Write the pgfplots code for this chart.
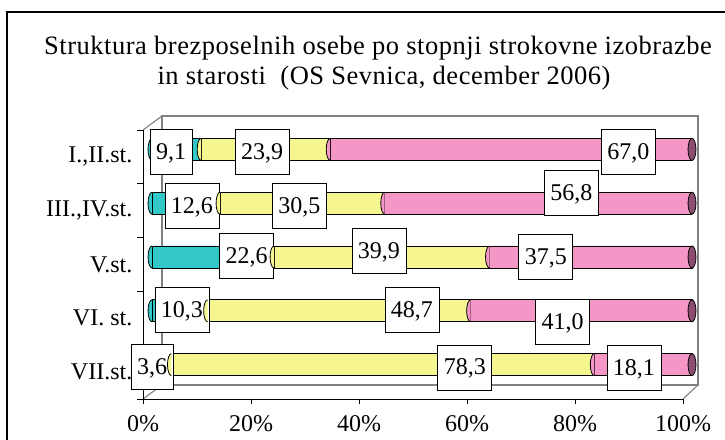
\documentclass[border=0pt]{standalone}
\usepackage{fontspec}
\setmainfont{Liberation Serif}
\newfontfamily\titlefont[LetterSpace=2]{Liberation Serif}
\usepackage{pgfplots}
\pgfplotsset{compat=1.18}

\definecolor{tealM}{HTML}{33C8C8}
\definecolor{yelM}{HTML}{F6F690}
\definecolor{pinkM}{HTML}{F497C7}
\definecolor{capC}{HTML}{8C4D70}

\pgfdeclareplotmark{lcap}{%
  \pgfpathmoveto{\pgfqpoint{0pt}{\pgfplotmarksize}}%
  \pgfpatharc{90}{270}{0.36\pgfplotmarksize and \pgfplotmarksize}%
  \pgfpathclose
  \pgfusepathqfill
  \pgfpathmoveto{\pgfqpoint{0pt}{\pgfplotmarksize}}%
  \pgfpatharc{90}{270}{0.36\pgfplotmarksize and \pgfplotmarksize}%
  \pgfusepathqstroke
}
\pgfdeclareplotmark{fcap}{%
  \pgfpathellipse{\pgfpointorigin}{\pgfqpoint{0.36\pgfplotmarksize}{0pt}}{\pgfqpoint{0pt}{\pgfplotmarksize}}%
  \pgfusepathqfillstroke
}

\pgfplotsset{
  common/.style={
    at={(143pt,40pt)}, anchor=south west,
    scale only axis, width=540pt, height=269pt,
    xmin=0, xmax=100, ymin=0.5, ymax=5.5,
    clip=false,
  },
  shifted/.style={xshift=9pt, yshift=7.5pt},
}

\tikzset{vbox/.style={draw=black, line width=0.7pt, fill=white, inner xsep=6pt, inner ysep=0pt,
  minimum height=45pt, text height=16.5pt, text depth=2pt, font=\fontsize{24}{28}\selectfont}}

\begin{document}
\begin{tikzpicture}[x=1pt,y=1pt]
\useasboundingbox (0,0) rectangle (725,439);
\begin{scope}
\clip (0,0) rectangle (725,439);
\draw[line width=1.6pt] (7,-5) -- (7,427) -- (730,427);
\end{scope}

\node[anchor=base, font=\titlefont\fontsize{26.5}{30}\selectfont, inner sep=0pt] at (378,384)
  {Struktura brezposelnih osebe po stopnji strokovne izobrazbe};
\node[anchor=base, font=\titlefont\fontsize{26.5}{30}\selectfont, inner sep=0pt] at (384,354)
  {in starosti\ \ (OS Sevnica, december 2006)};

% 3D walls
\draw[gray, line width=1.1pt] (162,54) rectangle (698,323);
\draw[gray, line width=1.1pt] (143,309) -- (162,323);
\draw[gray, line width=1.1pt] (143,40) -- (162,54);
\draw[gray, line width=1.1pt] (683,40) -- (698,54);

% underlay: left caps of the teal cylinders
\begin{axis}[common, hide axis]
\addplot[shifted, only marks, mark=lcap, mark size=11pt,
  mark options={fill=tealM, draw=black, line width=0.8pt}]
  coordinates {(0,1) (0,2) (0,3) (0,4) (0,5)};
\end{axis}

% main axis with stacked bars
\begin{axis}[common,
  xbar stacked, bar width=22pt,
  axis lines*=left,
  axis line style={-, black, line width=0.8pt},
  tick align=outside,
  xtick={0,20,40,60,80,100},
  xticklabels={0\%,20\%,40\%,60\%,80\%,100\%},
  ytick={1,2,3,4,5},
  yticklabels={VII.st.,VI. st.,V.st.,{III.,IV.st.},{I.,II.st.}},
  minor ytick={0.5,1.5,2.5,3.5,4.5,5.5},
  ytick style={draw=none},
  minor y tick style={draw=black, line width=0.8pt},
  xtick style={draw=black, line width=0.8pt},
  major tick length=4.5pt, minor tick length=6pt,
  tick label style={font=\fontsize{24}{28}\selectfont},
  yticklabel style={inner sep=0pt, xshift=-6pt},
  xticklabel style={inner sep=0pt, yshift=-12pt},
]
\addplot[shifted, draw=black, line width=0.8pt, fill=tealM]
  coordinates {(3.6,1) (10.3,2) (22.6,3) (12.6,4) (9.1,5)};
\addplot[shifted, draw=black, line width=0.8pt, fill=yelM]
  coordinates {(78.3,1) (48.7,2) (39.9,3) (30.5,4) (23.9,5)};
\addplot[shifted, draw=black, line width=0.8pt, fill=pinkM]
  coordinates {(18.1,1) (41.0,2) (37.5,3) (56.8,4) (67.0,5)};
\end{axis}

% overlay: segment faces, end caps, value labels
\begin{axis}[common, hide axis]
\addplot[shifted, only marks, mark=lcap, mark size=11pt,
  mark options={fill=yelM, draw=black, line width=0.8pt}]
  coordinates {(3.6,1) (10.3,2) (22.6,3) (12.6,4) (9.1,5)};
\addplot[shifted, only marks, mark=lcap, mark size=11pt,
  mark options={fill=pinkM, draw=black, line width=0.8pt}]
  coordinates {(81.9,1) (59.0,2) (62.5,3) (43.1,4) (33.0,5)};
\addplot[shifted, only marks, mark=fcap, mark size=11pt,
  mark options={fill=capC, draw=black, line width=0.8pt}]
  coordinates {(100,1) (100,2) (100,3) (100,4) (100,5)};

\node[vbox] at (axis cs:5.19,5.091) {9,1};
\node[vbox] at (axis cs:22.04,5.091) {23,9};
\node[vbox] at (axis cs:89.9,5.091) {67,0};
\node[vbox] at (axis cs:9.07,4.087) {12,6};
\node[vbox] at (axis cs:28.98,4.087) {30,5};
\node[vbox] at (axis cs:79.35,4.329) {56,8};
\node[vbox] at (axis cs:19.17,3.158) {22,6};
\node[vbox] at (axis cs:43.7,3.251) {39,9};
\node[vbox] at (axis cs:74.6,3.139) {37,5};
\node[vbox] at (axis cs:7.22,2.154) {10,3};
\node[vbox] at (axis cs:49.8,2.154) {48,7};
\node[vbox] at (axis cs:77.7,1.931) {41,0};
\node[vbox] at (axis cs:1.67,1.095) {3,6};
\node[vbox] at (axis cs:59.6,1.085) {78,3};
\node[vbox] at (axis cs:90.9,1.076) {18,1};
\end{axis}
\end{tikzpicture}
\end{document}
